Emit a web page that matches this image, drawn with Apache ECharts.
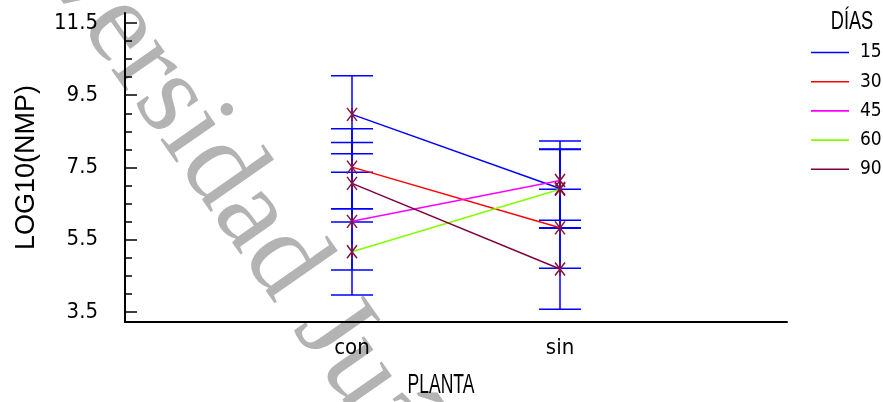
<!DOCTYPE html>
<html>
<head>
<meta charset="utf-8">
<script src="https://cdn.jsdelivr.net/npm/echarts@6/dist/echarts.min.js"></script>
<style>
  html, body { margin: 0; padding: 0; background: #ffffff; }
  #chart { width: 883px; height: 402px; }
</style>
</head>
<body>
<div id="chart"></div>
<script>
// Factor levels
const categories = ['con', 'sin'];
const days = ['15', '30', '45', '60', '90'];

// Means of LOG10(NMP) per day, for [con, sin]
const mean15 = [8.97, 6.92];
const mean30 = [7.51, 5.83];
const mean45 = [6.01, 7.14];
const mean60 = [5.17, 6.90];
const mean90 = [7.06, 4.69];

// Interval limits per day, for [con, sin]
const low15 = [7.88, 5.83];
const high15 = [10.04, 8.01];
const low30 = [6.36, 4.71];
const high30 = [8.57, 6.90];
const low45 = [4.66, 6.04];
const high45 = [7.37, 8.23];
const low60 = [3.97, 5.82];
const high60 = [6.36, 8.00];
const low90 = [5.99, 3.58];
const high90 = [8.19, 5.83];

// Y axis tick labels and minor ticks
const yLabels = [3.5, 5.5, 7.5, 9.5, 11.5];
const yMinorTicks = [3.5, 4, 4.5, 5, 5.5, 6, 6.5, 7, 7.5, 8, 8.5, 9, 9.5, 10, 10.5, 11, 11.5];

const means = [mean15, mean30, mean45, mean60, mean90];
const lows = [low15, low30, low45, low60, low90];
const highs = [high15, high30, high45, high60, high90];
const lineColors = ['#0000ff', '#ff0000', '#ff00ff', '#80ff00', '#800040'];

const NARROW = "'Liberation Sans Narrow', 'Arial Narrow', 'DejaVu Sans Condensed', sans-serif";
const LEGEND_ICON = 'path://M0,0H38V1.6H0Z';

// positions of the two factor levels on the x scale
const levelX = categories.map((c, i) => i + 1);

const lineSeries = days.map((d, k) => ({
  name: d,
  type: 'line',
  symbol: 'none',
  z: 3,
  lineStyle: { color: lineColors[k], width: 1.5 },
  itemStyle: { color: lineColors[k] },
  data: levelX.map((x, i) => [x, means[k][i]])
}));

const barData = [];
const markData = [];
days.forEach((d, k) => {
  levelX.forEach((x, i) => {
    barData.push([x, lows[k][i], highs[k][i]]);
    markData.push([x, means[k][i]]);
  });
});

const chart = echarts.init(document.getElementById('chart'));
chart.setOption({
  animation: false,
  backgroundColor: '#ffffff',
  legend: {
    orient: 'vertical',
    left: 811,
    top: 43,
    itemWidth: 38,
    itemHeight: 19,
    itemGap: 10.2,
    padding: 0,
    icon: LEGEND_ICON,
    data: days,
    textStyle: { fontFamily: NARROW, fontSize: 19, color: '#000', padding: [0, 0, 0, 6] }
  },
  grid: { left: 125, right: 96, top: 13, bottom: 80, containLabel: false },
  xAxis: {
    type: 'value',
    min: -0.0913,
    max: 3.0913,
    axisLine: { show: true, onZero: false, lineStyle: { color: '#000', width: 2 } },
    axisTick: { show: false },
    splitLine: { show: false },
    axisLabel: {
      customValues: levelX,
      margin: 15,
      fontFamily: NARROW,
      fontSize: 22,
      color: '#000',
      formatter: v => categories[Math.round(v) - 1] || ''
    }
  },
  yAxis: [{
    type: 'value',
    min: 3.224,
    max: 11.776,
    offset: 0,
    name: 'LOG10(NMP)',
    nameLocation: 'middle',
    nameGap: 85,
    nameTextStyle: { fontFamily: "'Liberation Sans', Arial, sans-serif", fontSize: 27, color: '#000' },
    axisLine: { show: true, onZero: false, lineStyle: { color: '#000', width: 2 } },
    axisTick: { show: true, inside: true, length: 12, customValues: yLabels, lineStyle: { color: '#000', width: 1.5 } },
    splitLine: { show: false },
    axisLabel: {
      customValues: yLabels,
      margin: 27,
      fontFamily: NARROW,
      fontSize: 22,
      color: '#000',
      formatter: v => v.toFixed(1)
    }
  }, {
    type: 'value',
    min: 3.224,
    max: 11.776,
    position: 'left',
    offset: 0,
    axisLine: { show: false, onZero: false },
    axisLabel: { show: false },
    splitLine: { show: false },
    axisTick: { show: true, inside: true, length: 7, customValues: yMinorTicks, lineStyle: { color: '#000', width: 1.5 } }
  }],
  graphic: [{
    type: 'text',
    z: -1,
    silent: true,
    x: -30,
    y: -186,
    rotation: -55 * Math.PI / 180,
    style: {
      text: 'Universidad Juárez Autónoma de Tabasco',
      font: "118px 'Liberation Serif', 'Times New Roman', serif",
      fill: '#b3b3b3',
      textAlign: 'left',
      textVerticalAlign: 'middle'
    }
  }, {
    // legend heading, set in a condensed face
    type: 'text',
    silent: true,
    x: 852,
    y: 22,
    scaleX: 0.7,
    style: {
      text: 'DÍAS',
      font: "26px 'Liberation Sans', Arial, sans-serif",
      fill: '#000',
      textAlign: 'center',
      textVerticalAlign: 'middle'
    }
  }, {
    // x axis title, set in a condensed face
    type: 'text',
    silent: true,
    x: 441,
    y: 386,
    scaleX: 0.65,
    style: {
      text: 'PLANTA',
      font: "27px 'Liberation Sans', Arial, sans-serif",
      fill: '#000',
      textAlign: 'center',
      textVerticalAlign: 'middle'
    }
  }],
  series: [{
    type: 'custom',
    name: 'intervalos',
    z: 2,
    data: barData,
    encode: { x: 0, y: [1, 2] },
    renderItem: (params, api) => {
      const x = api.value(0);
      const lo = api.coord([x, api.value(1)]);
      const hi = api.coord([x, api.value(2)]);
      const w = 21;
      const st = { stroke: '#0000ff', lineWidth: 1.5 };
      return {
        type: 'group',
        children: [
          { type: 'line', shape: { x1: lo[0], y1: lo[1], x2: hi[0], y2: hi[1] }, style: st },
          { type: 'line', shape: { x1: lo[0] - w, y1: lo[1], x2: lo[0] + w, y2: lo[1] }, style: st },
          { type: 'line', shape: { x1: hi[0] - w, y1: hi[1], x2: hi[0] + w, y2: hi[1] }, style: st }
        ]
      };
    }
  }].concat(lineSeries).concat([{
    type: 'custom',
    name: 'medias',
    z: 4,
    data: markData,
    encode: { x: 0, y: 1 },
    renderItem: (params, api) => {
      const p = api.coord([api.value(0), api.value(1)]);
      const hw = 5, hh = 6.5;
      const st = { stroke: '#801346', lineWidth: 1.5 };
      return {
        type: 'group',
        children: [
          { type: 'line', shape: { x1: p[0] - hw, y1: p[1] - hh, x2: p[0] + hw, y2: p[1] + hh }, style: st },
          { type: 'line', shape: { x1: p[0] + hw, y1: p[1] - hh, x2: p[0] - hw, y2: p[1] + hh }, style: st },
          { type: 'line', shape: { x1: p[0], y1: p[1] - hh, x2: p[0], y2: p[1] + hh }, style: st }
        ]
      };
    }
  }])
});
</script>
</body>
</html>
